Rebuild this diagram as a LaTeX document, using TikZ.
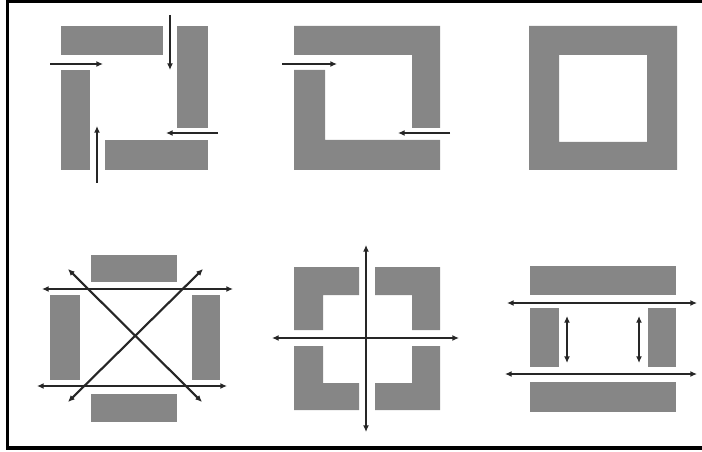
\documentclass[tikz,border=0pt]{standalone}
\usepackage{tikz}
\usetikzlibrary{arrows.meta}
\definecolor{CoreGray}{HTML}{868686}
\definecolor{FluxInk}{HTML}{262626}

\begin{document}
\begin{tikzpicture}[x=0.75pt,y=-0.75pt,>={Latex[length=5pt,width=4.5pt]},
    core/.style={fill=CoreGray},
    flux/.style={FluxInk,line width=1.6pt,->},
    fluxboth/.style={FluxInk,line width=1.6pt,<->}]
  \useasboundingbox (0,0) rectangle (702,452);
  % Frame.
  \draw[line width=2.3pt] (706,1.5) -- (7.5,1.5) -- (7.5,448) -- (706,448);
  % Four separate bars, pinwheel.
  \fill[core] (61,26) rectangle (163,55);
  \fill[core] (177,26) rectangle (208,128);
  \fill[core] (105,140) rectangle (208,170);
  \fill[core] (61,70) rectangle (90,170);
  \draw[flux] (50,64) -- (103,64);
  \draw[flux] (170,15) -- (170,70);
  \draw[flux] (218,133) -- (166,133);
  \draw[flux] (97,183) -- (97,126);
  % Two halves.
  \fill[core] (294,26) -- (440,26) -- (440,128) -- (412,128)
        -- (412,55) -- (294,55) -- cycle;
  \fill[core] (294,70) -- (325,70) -- (325,140) -- (440,140)
        -- (440,170) -- (294,170) -- cycle;
  \draw[flux] (282,64) -- (337,64);
  \draw[flux] (450,133) -- (398,133);
  % Closed ring.
  \fill[core,even odd rule] (529,26) rectangle (677,170)
        (559,55) rectangle (647,142);
  % Four bars, crossed.
  \fill[core] (91,255) rectangle (177,282);
  \fill[core] (91,394) rectangle (177,422);
  \fill[core] (50,295) rectangle (80,380);
  \fill[core] (192,295) rectangle (220,380);
  \draw[fluxboth] (42,289) -- (233,289);
  \draw[fluxboth] (37,386) -- (227,386);
  \draw[fluxboth] (68,269) -- (202,402);
  \draw[fluxboth] (203,269) -- (68,402);
  % Four corners.
  \fill[core] (294,267) -- (359,267) -- (359,295) -- (323,295)
        -- (323,330) -- (294,330) -- cycle;
  \fill[core] (375,267) -- (440,267) -- (440,330) -- (412,330)
        -- (412,295) -- (375,295) -- cycle;
  \fill[core] (294,346) -- (323,346) -- (323,383) -- (359,383)
        -- (359,410) -- (294,410) -- cycle;
  \fill[core] (412,346) -- (440,346) -- (440,410) -- (375,410)
        -- (375,383) -- (412,383) -- cycle;
  \draw[fluxboth] (366,245) -- (366,432);
  \draw[fluxboth] (272,338) -- (459,338);
  % Four bars, parallel.
  \fill[core] (530,266) rectangle (676,295);
  \fill[core] (530,382) rectangle (676,412);
  \fill[core] (530,308) rectangle (559,367);
  \fill[core] (648,308) rectangle (676,367);
  \draw[fluxboth] (507,303) -- (697,303);
  \draw[fluxboth] (505,374) -- (697,374);
  \draw[fluxboth] (567,316) -- (567,363);
  \draw[fluxboth] (639,316) -- (639,363);
\end{tikzpicture}
\end{document}
